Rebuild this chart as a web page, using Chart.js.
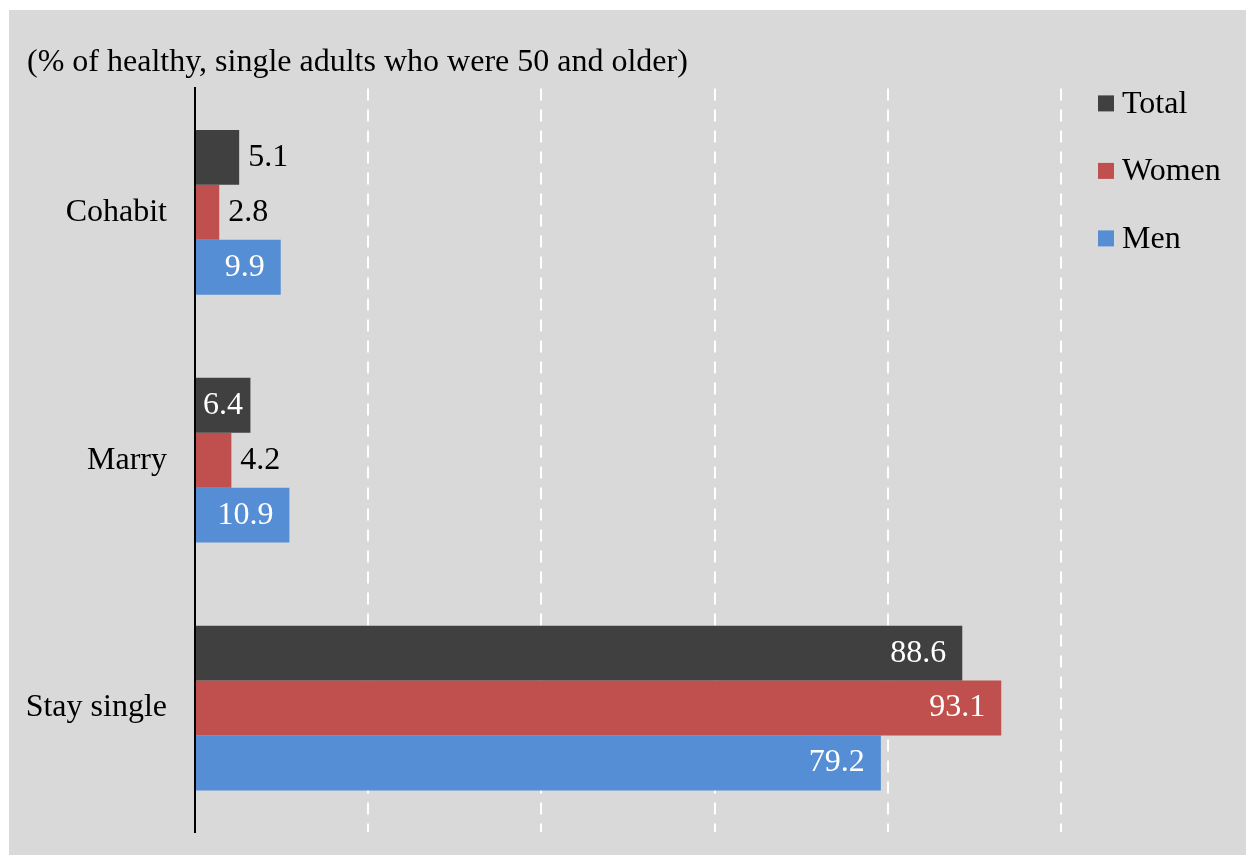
<!DOCTYPE html>
<html>
<head>
<meta charset="utf-8">
<script src="https://cdn.jsdelivr.net/npm/chart.js@4/dist/chart.umd.min.js"></script>
<style>
  html, body { margin: 0; padding: 0; background: #fff; overflow: hidden; }
  #chart { position: absolute; left: 9px; top: 10px; display: block; background: #d9d9d9; }
</style>
</head>
<body>
<canvas id="chart" width="1237" height="845"></canvas>
<script>
'use strict';

/* DATA */
const categories = ['Cohabit', 'Marry', 'Stay single'];
const totalVals = [5.1, 6.4, 88.6];
const womenVals = [2.8, 4.2, 93.1];
const menVals = [9.9, 10.9, 79.2];
const seriesNames = ['Total', 'Women', 'Men'];
const seriesColors = ['#404040', '#c0504d', '#558ed5'];
const titleText = '(% of healthy, single adults who were 50 and older)';

const FONT = "'Liberation Serif', 'Times New Roman', serif";

/* value labels: inside (white) when they fit, else just outside (black) */
const barLabels = {
  id: 'barLabels',
  afterDatasetsDraw(chart) {
    const ctx = chart.ctx;
    ctx.save();
    ctx.font = '32px ' + FONT;
    ctx.textBaseline = 'middle';
    chart.data.datasets.forEach((ds, di) => {
      chart.getDatasetMeta(di).data.forEach((bar, i) => {
        const txt = ds.data[i].toFixed(1);
        const tw = ctx.measureText(txt).width;
        const w = bar.x - bar.base;
        if (tw + 12 <= w) {
          let right = bar.x - 16;
          if (right - tw < bar.base + 7) right = bar.base + 7 + tw;
          ctx.fillStyle = '#fff';
          ctx.textAlign = 'right';
          ctx.fillText(txt, right, bar.y);
        } else {
          ctx.fillStyle = '#000';
          ctx.textAlign = 'left';
          ctx.fillText(txt, bar.x + 9, bar.y);
        }
      });
    });
    ctx.restore();
  }
};

/* legend drawn to the right of the plot */
const sideLegend = {
  id: 'sideLegend',
  afterDraw(chart) {
    const ctx = chart.ctx;
    const a = chart.chartArea;
    ctx.save();
    ctx.font = '32px ' + FONT;
    ctx.textBaseline = 'middle';
    ctx.textAlign = 'left';
    chart.data.datasets.forEach((ds, i) => {
      const y = a.top + 15 + i * 67.5;
      const x = a.right + 37;
      ctx.fillStyle = ds.backgroundColor;
      ctx.fillRect(x, y - 8, 16, 16);
      ctx.fillStyle = '#000';
      ctx.fillText(ds.label, x + 24, y + 1);
    });
    ctx.restore();
  }
};

const allVals = [totalVals, womenVals, menVals];

new Chart(document.getElementById('chart'), {
  type: 'bar',
  data: {
    labels: categories,
    datasets: seriesNames.map((name, i) => ({
      label: name,
      data: allVals[i],
      backgroundColor: seriesColors[i],
      categoryPercentage: 0.665,
      barPercentage: 1.0
    }))
  },
  options: {
    indexAxis: 'y',
    responsive: false,
    animation: false,
    layout: { padding: { left: 18, right: 185, top: 0, bottom: 23 } },
    plugins: {
      legend: { display: false },
      tooltip: { enabled: false },
      title: {
        display: true,
        text: titleText,
        align: 'start',
        color: '#000',
        font: { family: FONT, size: 32, weight: 'normal' },
        padding: { top: 33, bottom: 7 }
      }
    },
    scales: {
      x: {
        min: 0,
        max: 100,
        ticks: { display: false, stepSize: 20 },
        grid: {
          drawTicks: false,
          lineWidth: 2,
          color: c => (c.tick && c.tick.value === 0 ? 'rgba(0,0,0,0)' : '#ffffff')
        },
        border: { display: false, dash: [12, 9] },
        afterFit: s => { s.height = 0; }
      },
      y: {
        ticks: { color: '#000', font: { family: FONT, size: 32 }, padding: 28 },
        grid: { display: false, drawTicks: false },
        border: { display: true, color: '#000', width: 2 },
        afterFit: s => { s.width = 168; s.paddingTop = 0; s.paddingBottom = 0; }
      }
    }
  },
  plugins: [barLabels, sideLegend]
});
</script>
</body>
</html>
